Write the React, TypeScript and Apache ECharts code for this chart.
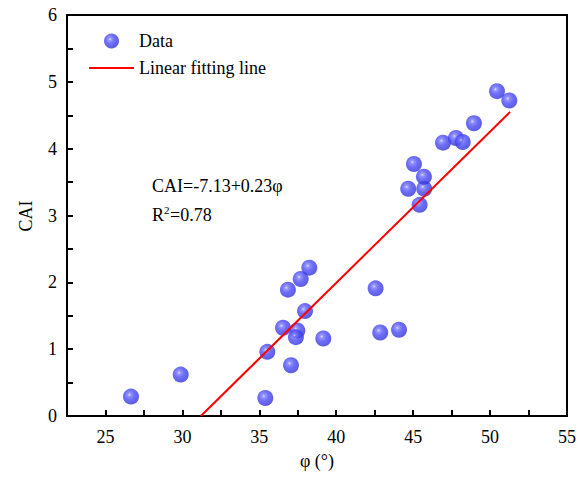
import React, { useEffect, useRef } from "react";
import * as echarts from "echarts";

const phi = [26.66, 29.89, 35.39, 35.52, 36.54, 37.06, 36.86, 37.69, 38.25, 37.97, 37.47, 37.38, 39.16, 42.56, 42.86, 44.08, 45.42, 44.68, 45.72, 45.70, 45.05, 46.94, 47.78, 48.22, 48.95, 50.45, 51.25];
const cai = [0.29, 0.62, 0.27, 0.96, 1.32, 0.76, 1.89, 2.05, 2.22, 1.57, 1.28, 1.18, 1.16, 1.91, 1.25, 1.29, 3.16, 3.40, 3.40, 3.58, 3.77, 4.09, 4.16, 4.10, 4.38, 4.86, 4.72];
const fitX = [31.2, 51.3];
const fitY = [0, 4.55];
const xLabels = [25, 30, 35, 40, 45, 50, 55];
const xTicks = [25, 27.5, 30, 32.5, 35, 37.5, 40, 42.5, 45, 47.5, 50, 52.5, 55];
const yLabels = [0, 1, 2, 3, 4, 5, 6];
const yTicks = [0, 0.5, 1, 1.5, 2, 2.5, 3, 3.5, 4, 4.5, 5, 5.5, 6];
const xName = "φ (°)";
const yName = "CAI";
const equationText = "CAI=-7.13+0.23φ";
const r2Value = "=0.78";

const FONT = "Liberation Serif";

export default function App() {
  const ref = useRef<HTMLDivElement>(null);
  useEffect(() => {
    if (!ref.current) return;
    const chart = echarts.init(ref.current, null, { renderer: "svg" });
    const ball = {
      type: "radial",
      x: 0.4,
      y: 0.38,
      r: 0.62,
      colorStops: [
        { offset: 0, color: "#dcdcff" },
        { offset: 0.16, color: "#7c7cff" },
        { offset: 0.5, color: "#4a4af4" },
        { offset: 1, color: "#3434dc" },
      ],
    };
    chart.setOption({
      animation: false,
      grid: {
        left: 67,
        right: 18,
        top: 15,
        bottom: 65,
        show: true,
        borderColor: "#000",
        borderWidth: 2,
        backgroundColor: "transparent",
      },
      legend: {
        orient: "vertical",
        left: 83,
        top: 27,
        itemWidth: 45,
        itemHeight: 15,
        itemGap: 9,
        textStyle: { fontFamily: FONT, fontSize: 18, color: "#000" },
        data: [
          { name: "Data" },
          { name: "Linear fitting line", itemStyle: { opacity: 0 } },
        ],
      },
      xAxis: {
        type: "value",
        min: 22.5,
        max: 55,
        interval: 2.5,
        axisLine: { show: true, onZero: false, lineStyle: { color: "#000", width: 2 } },
        axisTick: {
          show: true,
          inside: true,
          length: 6,
          lineStyle: { color: "#000", width: 2 },
          customValues: xTicks,
        },
        axisLabel: {
          show: true,
          margin: 12,
          fontFamily: FONT,
          fontSize: 18,
          color: "#000",
          customValues: xLabels,
        },
        splitLine: { show: false },
      },
      yAxis: {
        type: "value",
        min: 0,
        max: 6,
        interval: 0.5,
        axisLine: { show: true, onZero: false, lineStyle: { color: "#000", width: 2 } },
        axisTick: {
          show: true,
          inside: true,
          length: 6,
          lineStyle: { color: "#000", width: 2 },
          customValues: yTicks,
        },
        axisLabel: {
          show: true,
          margin: 10,
          fontFamily: FONT,
          fontSize: 18,
          color: "#000",
          customValues: yLabels,
        },
        splitLine: { show: false },
      },
      graphic: [
        {
          type: "text",
          x: 317,
          y: 461,
          style: { text: xName, fontFamily: FONT, fontSize: 18, fill: "#000", align: "center", verticalAlign: "middle" },
        },
        {
          type: "text",
          x: 26,
          y: 216,
          rotation: Math.PI / 2,
          style: { text: yName, fontFamily: FONT, fontSize: 18, fill: "#000", align: "center", verticalAlign: "middle" },
        },
        {
          type: "text",
          left: 152,
          top: 177,
          style: { text: equationText, fontFamily: FONT, fontSize: 18, fill: "#000" },
        },
        {
          type: "text",
          left: 152,
          top: 206,
          style: { text: "R", fontFamily: FONT, fontSize: 18, fill: "#000" },
        },
        {
          type: "text",
          left: 164,
          top: 204,
          style: { text: "2", fontFamily: FONT, fontSize: 11, fill: "#000" },
        },
        {
          type: "text",
          left: 170,
          top: 206,
          style: { text: r2Value, fontFamily: FONT, fontSize: 18, fill: "#000" },
        },
      ],
      series: [
        {
          name: "Data",
          type: "scatter",
          symbol: "circle",
          symbolSize: 16,
          itemStyle: { color: ball as any },
          data: phi.map((x, i) => [x, cai[i]]),
          z: 2,
        },
        {
          name: "Linear fitting line",
          type: "line",
          showSymbol: false,
          symbol: "none",
          lineStyle: { color: "#ff0000", width: 2 },
          itemStyle: { color: "#ff0000" },
          data: fitX.map((x, i) => [x, fitY[i]]),
          z: 3,
        },
      ],
    });
    return () => chart.dispose();
  }, []);
  return (
    <div
      ref={ref}
      style={{ position: "absolute", left: 0, top: 0, width: 585, height: 481 }}
    />
  );
}
